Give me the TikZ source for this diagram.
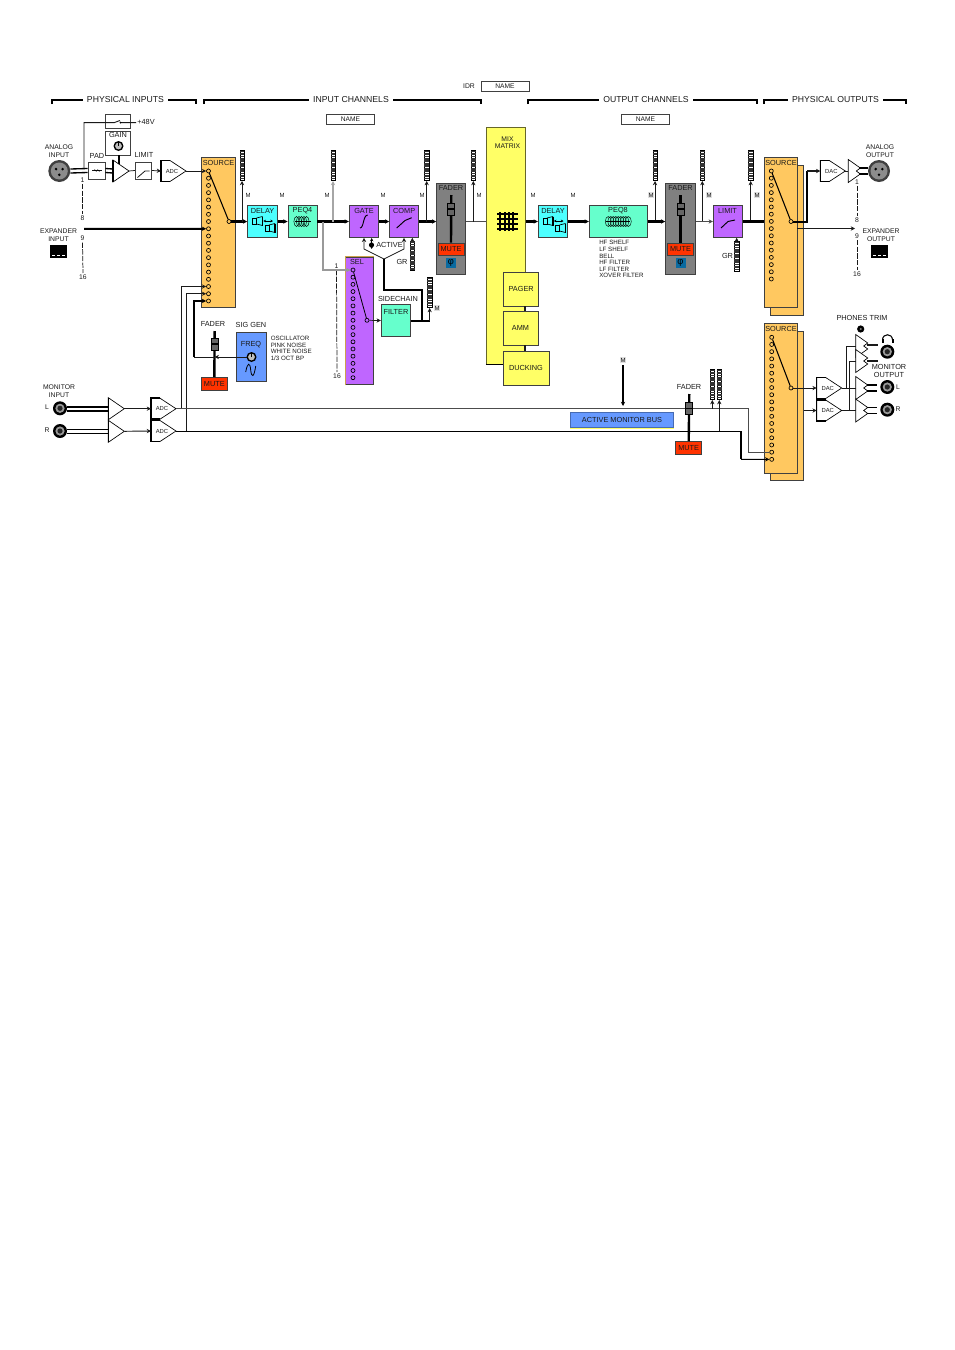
\documentclass[tikz,border=0pt]{standalone}
\usepackage{fontspec}
\setmainfont{Liberation Sans}
\usetikzlibrary{
  calc,
  positioning,
  arrows.meta
}
\definecolor{ink}{HTML}{1A1A1A}
\definecolor{edge}{HTML}{404040}
\definecolor{srcorange}{HTML}{FFC860}
\definecolor{dlycyan}{HTML}{4DFFFF}
\definecolor{eqgreen}{HTML}{66FFCC}
\definecolor{dynpurple}{HTML}{BF66FF}
\definecolor{mixyellow}{HTML}{FFFF66}
\definecolor{mutered}{HTML}{FF3300}
\definecolor{busblue}{HTML}{6699FF}
\definecolor{phiblue}{HTML}{0A6AA0}
\definecolor{fadergray}{HTML}{808080}

\begin{document}
\begin{tikzpicture}[>=Latex, x=0.75pt, y=-0.75pt, line join=miter]
  \tikzset{
    every node/.style={inner sep=0pt, text=ink},
    head/.style={font=\fontsize{6.5}{7}\selectfont},
    txt/.style={font=\fontsize{5.5}{6}\selectfont, align=center},
    small/.style={font=\fontsize{5.1}{5.7}\selectfont, align=center},
    listing/.style={font=\fontsize{4.65}{4.95}\selectfont, align=left, anchor=west},
    mlabel/.style={font=\fontsize{4.5}{5}\selectfont},
    mgray/.style={mlabel, fill=gray!25, inner sep=0.4pt},
    wire/.style={draw=ink, line width=0.55pt},
    bus/.style={draw=black, line width=1.7pt},
    arr/.style={-{Stealth[length=3.2pt,width=3.2pt]}},
    dashline/.style={draw=ink, line width=0.55pt, dash pattern=on 4pt off 1pt},
    dot/.style={circle, draw=black, fill=none, line width=0.5pt, minimum size=3pt},
    mod/.style n args={3}{draw=edge, fill=#1, line width=0.7pt,
      minimum width=#2*0.75pt, minimum height=#3*0.75pt},
    namebox/.style={draw=edge, fill=white, line width=0.6pt, font=\fontsize{5}{6}\selectfont,
      minimum width=36pt, minimum height=7.5pt},
    meter/.pic={
      \draw[line width=0.3pt, fill=white] (-2.3,0) rectangle (2.3,29.5);
      \foreach \k in {0,...,11} \fill[black!80] (-2.3,{\k*2.45+0.1}) rectangle (2.3,{\k*2.45+1.9});
      \coordinate (-base) at (0,30.5);
    },
    conv/.pic={
      \draw[fill=white, line width=0.5pt] (0,-10.5) -- (9,-10.5) -- (25,0) -- (9,10.5) -- (0,10.5) -- cycle;
      \draw[line width=1.1pt] (9,-10.5) -- (0,-10.5) -- (0,10.5) -- (9,10.5);
      \node[font=\fontsize{4.4}{5}\selectfont] (-txt) at (11,0) {#1};
      \coordinate (-in) at (0,0);
      \coordinate (-out) at (25,0);
    },
    amp/.pic={
      \draw[fill=white, line width=0.5pt] (0,-11) -- (16,0) -- (0,11) -- cycle;
      \draw[line width=1.1pt] (0,-11) -- (0,11);
      \coordinate (-in) at (0,0);
      \coordinate (-out) at (16,0);
    },
    balamp/.pic={
      \draw[fill=white, line width=0.5pt] (0,-11.5) -- (12,-3) -- (8,0) -- (12,3) -- (0,11.5) -- cycle;
      \coordinate (-in) at (0,0);
      \coordinate (-oa) at (11,-3);
      \coordinate (-ob) at (11,3);
    },
    xlr/.pic={
      \fill[black!75] (0,0) circle (11);
      \fill[black!45] (0,0) circle (8.5);
      \foreach \a in {90,210,330} \fill[black] (\a:3.8) circle (1.4);
      \coordinate (-e) at (11,0);
      \coordinate (-w) at (-11,0);
    },
    trs/.pic={
      \fill[black] (0,0) circle (7);
      \fill[black!40] (0,0) circle (4.6);
      \fill[black!85] (0,0) circle (2.6);
    },
    knob/.pic={
      \fill[black] (0,0) circle (5);
      \fill[black!25] (0,0) circle (3.4);
      \draw[line width=0.8pt] (0,0) -- (0,-4);
      \coordinate (-c) at (0,0);
    },
    fadercap/.pic={
      \draw[fill=black!60, line width=0.6pt] (-3.5,-6) rectangle (3.5,6);
      \draw[line width=0.8pt] (-3.5,0) -- (3.5,0);
    },
    expicon/.pic={
      \fill[black] (-8.3,-6.5) rectangle (8.3,6.5);
      \foreach \u in {-5,0,5} \fill[white] (\u-1.6,3.2) rectangle (\u+1.6,4.3);
    },
    spk/.pic={
      \draw[line width=0.5pt] (-10,-3) rectangle (-6,3);
      \draw[line width=0.5pt] (-6,-3) -- (0,-4.5) (-6,3) -- (0,4.5);
      \draw[line width=1pt] (0,-4.5) -- (0,4.5);
    },
    delaysym/.pic={
      \pic at (0,-0.5) {spk};
      \pic at (12.5,6.5) {spk};
      \draw[<->, >={Stealth[length=2pt,width=2pt]}, line width=0.6pt] (0.8,-0.5) -- (10.5,-0.5);
    }
  }
  \useasboundingbox (0,0) rectangle (954,1350);

  % brackets
  \foreach \nm/\xa/\xb/\xm/\ttl in {pi/52/196/125.5/PHYSICAL INPUTS, ic/204/481/351/INPUT CHANNELS,
      oc/528/757/646/OUTPUT CHANNELS, po/764/906/835.5/PHYSICAL OUTPUTS} {
    \coordinate (\nm a) at (\xa,104);
    \coordinate (\nm b) at (\xb,104);
    \draw[line width=1pt] (\nm a) -- ++(0,-4) -- ($(\nm b)+(0,-4)$) -- (\nm b);
    \node[head, fill=white, inner xsep=3pt, inner ysep=1pt] (\nm ttl) at (\xm,100) {\ttl};
  }
  \node[small] (idrtxt) at (469,86) {IDR};
  \node[namebox] (idrname) at (505,86) {NAME};
  \node[namebox] (icname) at (350.5,119) {NAME};
  \node[namebox] (ocname) at (645.5,119) {NAME};

  % boxes
  \node[mod={srcorange}{33.3}{150}] (srcin) at (218.4,232) {};
  \node[mod={dlycyan}{29.6}{31.6}] (delayin) at (262.5,221.5) {};
  \node[mod={eqgreen}{29}{31.6}] (peqfour) at (302.5,221.5) {};
  \node[mod={dynpurple}{29.4}{31.6}] (gate) at (364,221.5) {};
  \node[mod={dynpurple}{29}{31.6}] (comp) at (404.2,221.5) {};
  \node[mod={fadergray}{29}{91}] (faderin) at (451.2,228.5) {};
  \node[mod={mutered}{26}{12}, txt] (mutein) at (451,249) {MUTE};
  \node[fill=phiblue, minimum size=7.5pt, font=\fontsize{7}{7}\selectfont, text=black] (phiin) at (451,263) {φ};
  \node[mod={mixyellow}{38.7}{236.7}, draw=mixyellow!40!black] (mix) at (505.7,245.7) {};
  \node[mod={mixyellow}{35}{34}, txt] (pager) at (520.5,289) {\hspace*{1pt}PAGER};
  \node[mod={mixyellow}{35}{34}, txt] (amm) at (520.5,328) {AMM};
  \node[mod={mixyellow}{46}{34}, txt] (ducking) at (526,368) {DUCKING};
  \node[mod={dlycyan}{29.4}{31.6}] (delayout) at (553,221.5) {};
  \node[mod={eqgreen}{58}{31.6}] (peqeight) at (618.3,221.5) {};
  \node[mod={fadergray}{29.6}{91}] (faderout) at (680.5,228.5) {};
  \node[mod={mutered}{26}{12}, txt] (muteout) at (680.5,249) {MUTE};
  \node[fill=phiblue, minimum size=7.5pt, font=\fontsize{7}{7}\selectfont, text=black] (phiout) at (680.5,263) {φ};
  \node[mod={dynpurple}{29}{31.6}] (limitout) at (727.8,221.5) {};
  \node[mod={srcorange}{32.6}{150}] (srcoutb) at (787,240.3) {};
  \node[mod={srcorange}{33.3}{150}] (srcout) at (780.7,232.3) {};
  \node[mod={srcorange}{32.6}{149.3}] (srcmonb) at (787,406.3) {};
  \node[mod={srcorange}{33.3}{149.3}] (srcmon) at (780.7,398.6) {};
  \node[mod={dynpurple}{27.6}{127.6}] (sel) at (359.5,321) {};
  \draw[srcorange!80!black, line width=0.9pt] (sel.south west) -- (sel.north west) -- (sel.north east);
  \node[mod={eqgreen}{29.4}{32.4}] (filter) at (396,320.5) {};
  \node[mod={busblue}{29.7}{48.6}] (freq) at (251.2,357) {};
  \node[mod={mutered}{26}{12.6}, txt] (mutesig) at (214.3,384) {MUTE};
  \node[mod={mutered}{26}{12.6}, txt] (mutemon) at (688.7,448) {MUTE};
  \node[mod={busblue}{103.4}{15.4}, txt, draw=busblue!70!black] (monbus) at (622,420) {ACTIVE MONITOR BUS};
  \draw[mixyellow, line width=0.8pt] (monbus.south west) -- (monbus.south east);
  \node[mod={white}{25}{14}] (phantom) at (117.5,121) {};
  \node[mod={white}{25.5}{24}] (gain) at (118,143) {};
  \node[mod={white}{17}{17}] (pad) at (96.5,170.5) {};
  \node[mod={white}{16.5}{17}] (limitin) at (143.5,170.5) {};

  % box labels
  \foreach \nm/\px/\py/\ttl in {src1/218.5/163/SOURCE, dly1/262.5/211/DELAY, peq1/302.5/211/PEQ4, gat/364/210.5/GATE,
      cmp/404.2/210.5/COMP, fad1/451/188/FADER, sel1/357/262/SEL, fil/396/312/FILTER, dly2/553/210.5/DELAY,
      peq2/618/210.5/PEQ8, fad2/680.5/188/FADER, lim/727.5/210.5/LIMIT, src2/781/163/SOURCE, src3/781/329/SOURCE,
      gn/118/135/GAIN, frq/251/345/FREQ, pd/97/156/PAD, lm/144/155/LIMIT, sc/398/298.5/SIDECHAIN,
      act/389.5/245/ACTIVE, sg/251/325/SIG GEN, fd3/213/324/FADER, fd4/689/387/FADER,
      gr1/402/262/GR, gr2/727.5/256/GR, pht/862/318/PHONES TRIM} {
    \node[txt] (\nm txt) at (\px,\py) {\ttl};
  }
  \node[small] (analogin) at (59,151) {ANALOG\\INPUT};
  \node[small] (expin) at (58.5,235) {EXPANDER\\INPUT};
  \node[small] (monin) at (59,391) {MONITOR\\INPUT};
  \node[small] (analogout) at (880,151) {ANALOG\\OUTPUT};
  \node[small] (expout) at (881,235) {EXPANDER\\OUTPUT};
  \node[small, font=\fontsize{5.5}{6.2}\selectfont] (monout) at (889,371) {MONITOR\\OUTPUT};
  \node[small] (mixtxt) at (507.5,142.5) {MIX\\MATRIX};
  \node[txt] (plustxt) at (146,122) {+48V};
  \node[small] (ltxt) at (47,407.5) {L};
  \node[small] (rtxt) at (47,430) {R};
  \node[small] (ltxtb) at (898,387) {L};
  \node[small] (rtxtb) at (898,409.5) {R};
  \node[listing] (peqlist) at (599,259.2) {HF SHELF\\LF SHELF\\BELL\\HF FILTER\\LF FILTER\\XOVER FILTER};
  \node[listing] (siglist) at (270.5,348.5) {OSCILLATOR\\PINK NOISE\\WHITE NOISE\\1/3 OCT BP};

  % channel numbers and dashes
  \foreach \nm/\px/\py/\ttl in {na/82.5/180/1, nb/82.5/218/8, nc/82.5/238.5/9, nd/83/277/16,
      ne/857/182/1, nf/857/220/8, ng/857/236/9, nh/857/274/16, ni/336.5/266/1, nj/337/376/16} {
    \node[small] (\nm) at (\px,\py) {\ttl};
  }
  \draw[dashline] ([yshift=-1pt]na.south) -- ([yshift=1pt]nb.north);
  \draw[dashline] ([yshift=-1pt]nc.south) -- ([yshift=1pt]nd.north);
  \draw[dashline] ([yshift=-1pt]ne.south) -- ([yshift=1pt]nf.north);
  \draw[dashline] ([yshift=-1pt]ng.south) -- ([yshift=1pt]nh.north);
  \draw[dashline] ([yshift=-1pt]ni.south) -- ([yshift=1pt]nj.north);

  % source dots
  \foreach \i in {1,...,19} \node[dot] (ina\i) at (208.5,{171+(\i-1)*7.22}) {};
  \foreach \i in {1,...,16} \node[dot] (oua\i) at (771.3,{171+(\i-1)*7.2}) {};
  \foreach \i in {1,...,18} \node[dot] (mon\i) at (771.7,{337.3+(\i-1)*7.18}) {};
  \foreach \i in {1,...,16} \node[dot] (sla\i) at (353,{270+(\i-1)*7.18}) {};
  \node[dot] (inpole) at (229,221.5) {};
  \node[dot] (oupole) at (791,221.5) {};
  \node[dot] (monpole) at (791,388) {};
  \node[dot] (slpole) at (367,320.3) {};
  \draw[line width=0.8pt] (ina1) -- (inpole);
  \draw[line width=0.8pt] (oua1) -- (oupole);
  \draw[line width=0.8pt] (mon1) -- (monpole);
  \draw[line width=0.6pt] (sla1) -- (slpole);

  % analog input
  \pic (xlrin) at (59.3,171) {xlr};
  \pic (inamp) at (113,171) {amp};
  \pic (adcin) at (161,171) {conv=ADC};
  \pic at (118.5,146) {knob};
  \coordinate (pwrtap) at (84,168.5);
  \coordinate (pwrout) at (136,122.7);
  \coordinate (gainfoot) at (119,155);
  \coordinate (ampfoot) at (119,164);
  \foreach \s in {-1.5pt,1.5pt} {
    \draw[line width=1pt] ([yshift=\s]xlrin-e) -- ([yshift=\s]pad.west);
    \draw[line width=1pt] ([yshift=\s]pad.east) -- ([yshift=\s]inamp-in);
  }
  \draw[wire, line width=0.7pt] (pwrtap) |- (114,122.7) -- (120,120.5) (121,122.7) -- (pwrout);
  \fill (120.5,122.7) circle (1);
  \draw[line width=1.3pt] (gainfoot) -- (ampfoot);
  \draw[wire, line width=0.8pt] (92,170.5) -- (102,170.5);
  \draw[line width=0.5pt] (94,170.5) .. controls (95,168) and (96,173) .. (97,170.5) .. controls (98,168) and (99,173) .. (100,170.5);
  \draw[wire] (inamp-out) -- (limitin.west);
  \draw[wire, line width=0.6pt] (137.5,177.5) -- (145,171) -- (149.5,171);
  \draw[wire, arr] (limitin.east) -- (adcin-in);
  \draw[wire, arr, line width=0.7pt] (adcin-out) -- (ina1);

  % expander input
  \pic at (58.7,251.5) {expicon};
  \coordinate (expstart) at (84,228.76);
  \draw[bus, line width=1.5pt, arr] (expstart) -- (ina9);

  % input channel strip
  \draw[bus, arr] (inpole) -- (delayin.west);
  \draw[bus, arr] (delayin.east) -- (peqfour.west);
  \draw[bus, arr] (peqfour.east) -- (gate.west);
  \draw[bus, arr] (gate.east) -- (comp.west);
  \draw[bus, arr] (comp.east) -- (comp.east -| faderin.west);
  \draw[wire, line width=0.8pt, draw=black!70] (comp.east -| faderin.east) -- (comp.east -| mix.west);
  \pic at (262.5,221.5) {delaysym};
  \foreach \ex in {-6,-3.5,...,6} \draw[line width=0.35pt] ($(peqfour)+(\ex,0)$) ellipse (2.6 and 5);
  \draw[line width=1pt] ($(peqfour)+(-8,0)$) -- ($(peqfour)+(8,0)$);
  \draw[line width=0.7pt] (360,228) .. controls (364,228) and (363,215) .. (367.7,215);
  \draw[line width=0.7pt] (396.7,228) -- (405,220.5) -- (411.7,217.7);

  % meters on the busses
  \foreach \nm/\mx/\mcol/\lw in {a/242/ink/0.5, b/333/gray!70/1, c/426.7/ink/0.5, d/473.3/ink/0.5,
      e/655/ink/0.5, f/702.3/ink/0.5, g/750.7/ink/0.5} {
    \pic (m\nm) at (\mx,150.5) {meter};
    \coordinate (tap\nm) at (\mx,221.5);
    \draw[wire, arr, draw=\mcol, line width=\lw pt] (tap\nm) -- (m\nm-base);
  }
  \foreach \nm/\px/\py in {ma/248/195, mb/282/195, mc/327/195, md/383/195, me/422/195, mf/479/195, mg/533/195, mh/573/195} {
    \node[mlabel] (\nm) at (\px,\py) {M};
  }
  \foreach \nm/\px/\py in {mi/651/195, mj/709/195, mk/757/195, ml/437/308, mm/623/360} {
    \node[mgray] (\nm) at (\px,\py) {M};
  }

  % faders
  \coordinate (fdintop) at (451.3,195);
  \draw[line width=1.8pt] (fdintop) -- (mutein.north);
  \pic at (451.3,209) {fadercap};
  \coordinate (fdouttop) at (680.5,195);
  \draw[line width=1.8pt] (fdouttop) -- (muteout.north);
  \pic at (680.5,209) {fadercap};
  \coordinate (fdsigtop) at (214.7,331);
  \draw[line width=1.8pt] (fdsigtop) -- (mutesig.north);
  \pic at (214.7,344) {fadercap};
  \coordinate (fdmontop) at (689.3,394);
  \draw[line width=1.8pt] (fdmontop) -- (mutemon.north);

  % gate, comp and sidechain
  \coordinate (sidejoin) at (384,259);
  \coordinate (sidefork) at (422,290);
  \coordinate (gatefoot) at (364,249);
  \coordinate (compfoot) at (404,249);
  \draw[wire, arr] (sidejoin) -- (gatefoot) -- (gatefoot |- gate.south);
  \draw[wire, arr] (sidejoin) -- (compfoot) -- (compfoot |- comp.south);
  \draw[<->, >={Stealth[length=2.5pt,width=2.5pt]}, line width=0.8pt] (371.7,238) -- (371.7,249);
  \fill (371.5,245) circle (2.6);
  \draw[line width=1.2pt] (sidejoin) |- (sidefork) -- (sidefork |- filter.east);
  \coordinate (sidesend) at (323,221.5);
  \draw[wire, arr, draw=gray!80, line width=0.9pt] (sidesend) |- (sla1);
  \draw[wire, arr] (slpole) -- (filter.west);
  \pic (mgrcomp) at (412.3,241) {meter};
  \coordinate (mgrtop) at (412.3,241);
  \draw[wire, arr] (mgrtop) -- (mgrtop |- comp.south);
  \pic (msc) at (429.7,277.5) {meter};
  \coordinate (sctap) at (429.7,320.5);
  \draw[line width=1.5pt] (filter.east) -- (sctap);
  \draw[wire, arr] (sctap) -- (msc-base);

  % mix matrix
  \foreach \gx in {500,505,509,513} \draw[line width=0.9pt] (\gx,212) -- (\gx,231);
  \foreach \gy in {214,219,224,229} \draw[line width=0.9pt] (497,\gy) -- (518,\gy);
  \draw[wire, line width=0.8pt] (pager.south) ++(4.5,0) -- ++(0,5);
  \draw[wire, line width=0.8pt] (amm.south) ++(4.5,0) -- ++(0,6);
  \draw[line width=1.2pt] (mix.south west) -- (ducking.west |- mix.south);

  % output channel strip
  \draw[bus, arr] (delayout.west -| mix.east) -- (delayout.west);
  \draw[bus, arr] (delayout.east) -- (peqeight.west);
  \draw[bus, arr] (peqeight.east) -- (peqeight.east -| faderout.west);
  \draw[wire, arr, line width=0.8pt, draw=black!70] (limitout.west -| faderout.east) -- (limitout.west);
  \draw[bus] (limitout.east) -- (limitout.east -| srcout.west);
  \pic at (553,221.5) {delaysym};
  \foreach \ex in {-10,-7.5,...,10} \draw[line width=0.35pt] ($(peqeight)+(\ex,0)$) ellipse (3 and 5);
  \draw[line width=1pt] ($(peqeight)+(-12,0)$) -- ($(peqeight)+(12,0)$);
  \draw[line width=0.7pt] (721,228) -- (728,221.5) -- (735,220);
  \pic (mgrlim) at (736.7,241.5) {meter};
  \coordinate (mlimtop) at (736.7,241.5);
  \draw[wire, arr] (mlimtop) -- (mlimtop |- limitout.south);

  % physical outputs
  \pic (dacout) at (820.3,171) {conv=DAC};
  \pic (ampout) at (848.3,171) {balamp};
  \pic (xlrout) at (879,171) {xlr};
  \coordinate (ouriser) at (807,221.5);
  \coordinate (outop) at (807,171);
  \draw[line width=1.5pt] (oupole) -- (ouriser) -- (outop);
  \draw[wire, arr, line width=0.8pt] (outop) -- (dacout-in);
  \draw[wire] (dacout-out) -- (ampout-in);
  \draw[line width=1pt] (ampout-oa) -- (xlrout-w |- ampout-oa);
  \draw[line width=1pt] (ampout-ob) -- (xlrout-w |- ampout-ob);
  \coordinate (expoutstart) at (797.3,228.5);
  \coordinate (expoutend) at (855,228.5);
  \draw[wire, arr] (expoutstart) -- (expoutend);
  \pic at (879.5,251.5) {expicon};

  % signal generator
  \pic (sigknob) at (251.5,357) {knob};
  \coordinate (sigfader) at (214.7,357);
  \coordinate (sigturn) at (194,357);
  \draw[wire, arr] (sigknob-c) ++(-5,0) -- (sigfader);
  \draw[wire] (sigfader) -- (sigturn);
  \draw[line width=1.1pt, arr] (sigturn) |- (ina19);
  \draw[line width=0.6pt] (245.7,372) .. controls (247.5,362) and (250,362) .. (250.7,370) .. controls (251.5,378) and (254,378) .. (255.7,366);

  % monitor input
  \pic (jackil) at (60,408.3) {trs};
  \pic (jackir) at (60,431) {trs};
  \pic (ampil) at (108.3,408.7) {amp};
  \pic (ampir) at (108.3,431.3) {amp};
  \pic (adcil) at (151,408.7) {conv=ADC};
  \pic (adcir) at (151,431) {conv=ADC};
  \draw[line width=1.6pt] (151,420) -- (160,420);
  \coordinate (jackle) at (67,408.7);
  \coordinate (jackre) at (67,431.3);
  \foreach \s in {-1.7pt,1.2pt} {
    \draw[line width=1pt] ([yshift=\s]jackle) -- ([yshift=\s]ampil-in);
    \draw[line width=1pt] ([yshift=\s]jackre) -- ([yshift=\s]ampir-in);
  }
  \draw[wire, arr, line width=0.7pt] (ampil-out) -- (adcil-in);
  \draw[wire, arr, line width=0.7pt] (ampir-out) -- (adcir-in);
  \coordinate (tapl) at (181.7,408.7);
  \coordinate (tapr) at (186,431);
  \draw[wire, arr] (tapl) |- (ina17);
  \draw[wire, arr] (tapr) |- (ina18);

  % monitor busses
  \coordinate (turnl) at (748.3,408.7);
  \coordinate (turnr) at (741,431);
  \coordinate (endr) at (741,459.4);
  \draw[draw=black!70, line width=0.6pt] (adcil-out) -- (turnl) |- (mon17);
  \draw[line width=0.7pt] (adcir-out) -- (turnr);
  \draw[line width=1.4pt] (turnr) -- (endr);
  \draw[line width=0.7pt, arr] (endr) -- (mon18);
  \pic at (689.3,408.5) {fadercap};
  \coordinate (mbusend) at (623,406);
  \draw[line width=1pt, arr] (mm.south) ++(0,2.5) -- (mbusend);
  \pic (mma) at (712.3,369.5) {meter};
  \pic (mmb) at (719.3,369.5) {meter};
  \coordinate (tapma) at (712.3,408.7);
  \coordinate (tapmb) at (719.3,431);
  \draw[wire, arr] (tapma) -- (mma-base);
  \draw[wire, arr] (tapmb) -- (mmb-base);

  % monitor output
  \pic (dacl) at (816.7,388) {conv=DAC};
  \pic (dacr) at (816.7,410.5) {conv=DAC};
  \coordinate (pickr) at (804,410.5);
  \draw[wire, arr, line width=0.7pt] (monpole) -- (dacl-in);
  \draw[wire, arr, line width=0.7pt] (pickr) -- (dacr-in);
  \pic (phl) at (855.7,346) {balamp};
  \pic (phr) at (855.7,361) {balamp};
  \pic (ampol) at (855.7,388) {balamp};
  \pic (ampor) at (855.7,410.5) {balamp};
  \coordinate (forkl) at (846,388);
  \coordinate (forkr) at (849.3,410.5);
  \draw[wire, line width=0.7pt] (dacl-out) -- (ampol-in);
  \draw[wire, line width=0.7pt] (dacr-out) -- (ampor-in);
  \draw[wire, line width=0.7pt] (forkl) |- (phl-in);
  \draw[wire, line width=0.7pt] (forkr) |- (phr-in);
  \foreach \nm in {ampol,ampor} {
    \draw[line width=1pt] (\nm-oa) -- ++(10,0);
    \draw[line width=1pt] (\nm-ob) -- ++(10,0);
  }
  \draw[wire, line width=0.8pt] (867,345) -- (878,345);
  \draw[wire, line width=0.8pt] (867,361) -- (878,361);
  \pic at (887.3,351.7) {trs};
  \pic at (887.3,387) {trs};
  \pic at (887.3,409.7) {trs};
  \fill[black] (860.7,329) circle (3.6);
  \fill[black!50] (860.7,329) circle (1.2);
  \draw[line width=0.8pt] (882.5,340) .. controls (882.5,333) and (892.5,333) .. (892.5,340);
  \fill (881.5,339) rectangle (883.5,343);
  \fill (891.5,339) rectangle (893.5,343);
\end{tikzpicture}
\end{document}
